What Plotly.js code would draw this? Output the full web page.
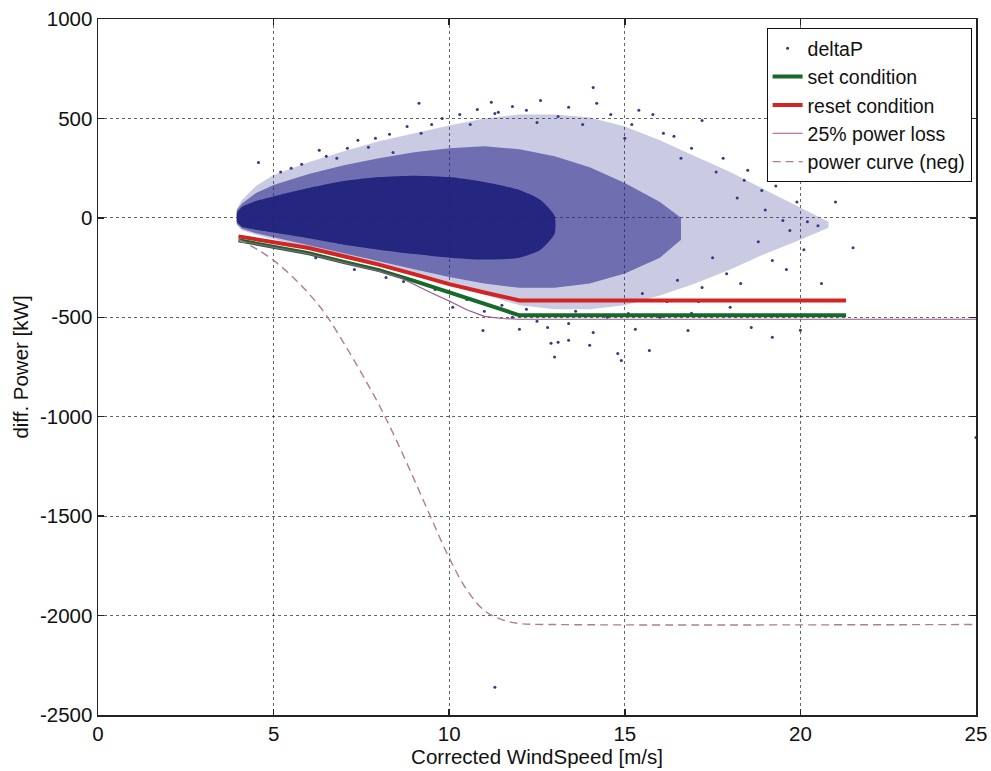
<!DOCTYPE html>
<html>
<head>
<meta charset="utf-8">
<script src="https://cdn.plot.ly/plotly-3.0.1.min.js"></script>
<style>html,body{margin:0;padding:0;background:#fff;}#chart{width:991px;height:771px;}</style>
</head>
<body>
<div id="chart"></div>
<script>
// ---- Data ----
// Scatter cloud "deltaP": density bands (upper / lower envelopes, kW) by wind speed (m/s)
var haloX  = [3.95, 4.1, 4.5, 5, 6, 7, 8, 9, 10, 11, 12, 13, 14, 15, 16, 17, 18, 19, 20, 20.8];
var haloUp = [45, 90, 160, 215, 280, 335, 385, 425, 465, 500, 520, 520, 505, 460, 390, 310, 230, 140, 50, -20];
var haloLo = [-35, -62, -85, -105, -150, -195, -245, -290, -340, -385, -440, -460, -460, -440, -390, -330, -260, -180, -110, -50];

var midX  = [3.95, 4.1, 4.5, 5, 6, 7, 8, 9, 10, 11, 12, 13, 14, 15, 16, 16.6];
var midUp = [38, 72, 125, 165, 220, 265, 300, 330, 350, 360, 345, 310, 255, 175, 80, 0];
var midLo = [-30, -55, -78, -97, -138, -178, -218, -258, -298, -330, -352, -352, -330, -280, -200, -110];

var coreX  = [3.95, 4.1, 4.5, 5, 6, 7, 8, 9, 10, 11, 12, 12.6, 13];
var coreUp = [25, 55, 85, 108, 150, 185, 205, 212, 205, 180, 140, 90, 10];
var coreLo = [-20, -45, -60, -74, -103, -135, -160, -182, -200, -210, -200, -160, -80];

// individual sparse deltaP points (outliers)
var ptX = [9.14, 11.2, 11.3, 12.2, 13.4, 14.2, 15.4, 9.2, 8.4, 16.1, 14.1, 17.2, 18.4, 18.9, 19.5, 19.7, 19.2, 18.6, 19.2, 16.8,
           15.7, 14.8, 13.4, 12.9, 21.2, 17.2, 17.9, 16.5, 15.5, 15.1, 14.9, 25.0, 11.3, 12.8, 13.1, 14.1, 10.96, 13.4, 4.57, 6.3,
           7.7, 11.4, 5.5, 6.8, 7.4, 8.8, 9.8, 10.6, 12.5, 13.8, 15.0, 16.6, 17.6, 18.2, 19.0, 20.2, 18.8, 17.5, 16.2, 14.5,
           13.6, 12.2, 11.5, 10.5, 9.6, 8.7, 20.0, 12.0, 10.1, 15.8,
           5.2, 5.8, 6.5, 7.1, 7.9, 8.3, 9.5, 10.3, 10.8, 11.8, 12.6, 13.1, 14.6, 15.2, 16.4, 16.9, 17.8, 18.5, 19.3, 19.9,
           20.5, 20.1, 19.6, 18.3, 17.1, 16.0, 15.3, 14.0, 12.5, 11.8, 11.0, 13.0, 16.9, 18.0, 20.6, 21.0, 21.5, 8.2, 7.3, 6.2];
var ptY = [576, 581, 525, 541, 556, 576, 541, 425, 329, 425, 656, 490, 189, 138, -13, -63, -214, -551, -601, -566,
           -667, -682, -616, -631, 204, -350, -281, -314, -380, -481, -717, -1105, -2361, -551, -626, -576, -566, -531, 279, 340,
           355, 531, 250, 300, 390, 460, 500, 470, 480, 470, 400, 300, 230, 100, 40, -20, -120, -200, -420, -500,
           -470, -460, -440, -410, -360, -320, -565, -560, -450, 520,
           230, 270, 310, 350, 400, 420, 470, 520, 545, 560, 590, 510, 520, 470, 410, 350, 300, 240, 160, 80,
           -40, -160, -260, -330, -420, -500, -560, -640, -520, -500, -470, -700, -480, -450, -330, 80, -150, -300, -260, -200];

// Line curves (kW) vs wind speed (m/s)
var setX   = [4, 5, 6, 7, 8, 9, 10, 11, 12, 21.3];
var setY   = [-113, -145, -178, -222, -263, -317, -374, -432, -490, -490];
var resetX = [4, 5, 6, 7, 8, 9, 10, 11, 12, 21.3];
var resetY = [-93, -122, -152, -193, -235, -283, -333, -375, -415, -415];
var lossX  = [4, 5, 6, 7, 8, 8.6, 9, 9.5, 10, 10.5, 11, 11.5, 12, 25];
var lossY  = [-115, -147, -181, -225, -268, -300, -335, -378, -418, -462, -495, -506, -510, -510];
var pcX    = [4, 4.5, 5, 5.5, 6, 6.5, 7, 7.5, 8, 8.5, 9, 9.5, 10, 10.5, 11, 11.5, 12, 13, 25];
var pcY    = [-110, -155, -214, -290, -380, -490, -630, -780, -940, -1120, -1315, -1515, -1710, -1870, -1975, -2020, -2040, -2045, -2045];

var xTicks = [0, 5, 10, 15, 20, 25];
var yTicks = [1000, 500, 0, -500, -1000, -1500, -2000, -2500];

function band(xs, up, lo) {
  return { x: xs.concat(xs.slice().reverse()), y: up.concat(lo.slice().reverse()) };
}
var halo = band(haloX, haloUp, haloLo);
var mid = band(midX, midUp, midLo);
var core = band(coreX, coreUp, coreLo);

var FONT = 'Liberation Sans, Arial, sans-serif';
var FS = 20.5;
var traces = [
  {x: halo.x, y: halo.y, type: 'scatter', mode: 'lines', fill: 'toself', fillcolor: 'rgba(45,45,145,0.25)', line: {width: 0}, showlegend: false, hoverinfo: 'skip'},
  {x: mid.x, y: mid.y, type: 'scatter', mode: 'lines', fill: 'toself', fillcolor: 'rgba(35,35,135,0.55)', line: {width: 0}, showlegend: false, hoverinfo: 'skip'},
  {x: core.x, y: core.y, type: 'scatter', mode: 'lines', fill: 'toself', fillcolor: 'rgba(28,30,122,0.9)', line: {width: 0, shape: 'spline', smoothing: 0.6}, showlegend: false, hoverinfo: 'skip'},
  {x: ptX, y: ptY, type: 'scatter', mode: 'markers', name: 'deltaP', marker: {size: 3, color: 'rgb(55,55,135)'}},
  {x: setX, y: setY, type: 'scatter', mode: 'lines', name: 'set condition', line: {color: 'rgb(22,105,40)', width: 4}},
  {x: resetX, y: resetY, type: 'scatter', mode: 'lines', name: 'reset condition', line: {color: 'rgb(212,35,35)', width: 4}},
  {x: lossX, y: lossY, type: 'scatter', mode: 'lines', name: '25% power loss', line: {color: 'rgb(150,85,140)', width: 1.2}},
  {x: pcX, y: pcY, type: 'scatter', mode: 'lines', name: 'power curve (neg)', line: {color: 'rgb(175,125,145)', width: 1.4, dash: '8px,5px', shape: 'spline'}}
];

var axisCommon = {
  showline: true, linecolor: '#222', linewidth: 1.5, mirror: 'ticks',
  ticks: 'inside', ticklen: 6, tickwidth: 1.5, tickcolor: '#222',
  showgrid: true, gridcolor: 'rgba(0,0,0,0.6)', gridwidth: 1, griddash: 'dot',
  zeroline: false, tickfont: {family: FONT, size: FS, color: '#111'}
};

var layout = {
  width: 991, height: 771,
  margin: {l: 98, r: 15, t: 19, b: 56},
  paper_bgcolor: '#fff', plot_bgcolor: '#fff',
  font: {family: FONT, size: FS, color: '#111'},
  xaxis: Object.assign({}, axisCommon, {
    range: [0, 25], tickvals: xTicks, ticktext: xTicks.map(String),
    title: {text: 'Corrected WindSpeed [m/s]', font: {family: FONT, size: FS, color: '#111'}, standoff: 0}
  }),
  yaxis: Object.assign({}, axisCommon, {
    range: [-2500, 1000], tickvals: yTicks, ticktext: yTicks.map(String),
    title: {text: 'diff. Power [kW]', font: {family: FONT, size: FS, color: '#111'}, standoff: 6}
  }),
  legend: {
    x: 0.995, y: 0.987, xanchor: 'right', yanchor: 'top',
    bgcolor: '#fff', bordercolor: '#111', borderwidth: 1,
    font: {family: FONT, size: 19.5, color: '#111'}, tracegroupgap: 0
  },
  showlegend: true
};

Plotly.newPlot('chart', traces, layout, {displayModeBar: false, staticPlot: true});
</script>
</body>
</html>
